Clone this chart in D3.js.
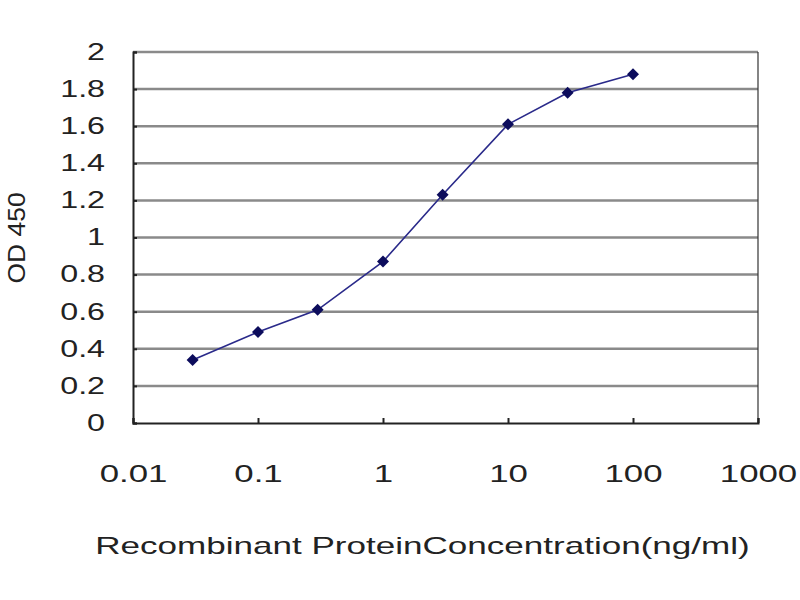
<!DOCTYPE html>
<html>
<head>
<meta charset="utf-8">
<script src="https://cdn.jsdelivr.net/npm/d3@7"></script>
<style>
  body { margin: 0; background: #fff; }
  text { font-family: "Liberation Sans", Arial, sans-serif; fill: #222; }
</style>
</head>
<body>
<div class="canvas"></div>
<script>
// concentrations (ng/ml) and OD 450 readings
const concentrations = [0.03, 0.1, 0.3, 1, 3, 10, 30, 100];
const odValues = [0.34, 0.49, 0.61, 0.87, 1.23, 1.61, 1.78, 1.88];
const xTicks = [0.01, 0.1, 1, 10, 100, 1000];
const xTickLabels = ['0.01', '0.1', '1', '10', '100', '1000'];
const yTicks = [0, 0.2, 0.4, 0.6, 0.8, 1, 1.2, 1.4, 1.6, 1.8, 2];

const width = 800, height = 600;
const margin = { top: 52, right: 42, bottom: 177, left: 133 };

const svg = d3.select('.canvas').append('svg')
    .attr('width', width)
    .attr('height', height);

// widen text the way the old chart image does
function stretch(sel, k) {
  sel.each(function() {
    const w = this.getComputedTextLength();
    d3.select(this)
      .attr('textLength', w * k)
      .attr('lengthAdjust', 'spacingAndGlyphs');
  });
}

const x = d3.scaleLog()
    .domain([0.01, 1000])
    .range([margin.left, width - margin.right]);

const y = d3.scaleLinear()
    .domain([0, 2])
    .range([height - margin.bottom, margin.top]);

// grid lines
svg.append('g')
  .selectAll('line')
  .data(yTicks.filter(d => d > 0))
  .join('line')
    .attr('x1', x(0.01))
    .attr('x2', x(1000))
    .attr('y1', d => y(d))
    .attr('y2', d => y(d))
    .attr('stroke', '#8a8a8a')
    .attr('stroke-width', 2.5);

// right border
svg.append('line')
    .attr('x1', x(1000)).attr('x2', x(1000))
    .attr('y1', y(2)).attr('y2', y(0))
    .attr('stroke', '#333')
    .attr('stroke-width', 1.2);

// y axis
const yAxis = svg.append('g')
    .attr('transform', `translate(${margin.left},0)`)
    .call(d3.axisLeft(y).tickValues(yTicks).tickSize(-4).tickPadding(28)
      .tickFormat(d => d3.format('~g')(d)));
yAxis.select('.domain').attr('stroke', '#222').attr('stroke-width', 2);
yAxis.selectAll('.tick line').attr('stroke', '#222').attr('stroke-width', 2);
yAxis.selectAll('text').style('font-size', '23px').attr('fill', '#222')
    .call(stretch, 1.4);

// x axis
const xAxis = svg.append('g')
    .attr('transform', `translate(0,${y(0)})`)
    .call(d3.axisBottom(x).tickValues(xTicks).tickSize(-5).tickPadding(42)
      .tickFormat((d, i) => xTickLabels[i]));
xAxis.select('.domain').attr('stroke', '#222').attr('stroke-width', 2);
xAxis.selectAll('.tick line').attr('stroke', '#222').attr('stroke-width', 2);
xAxis.selectAll('text').style('font-size', '24px').attr('fill', '#222')
    .call(stretch, 1.45);

// series line
const pts = concentrations.map((c, i) => [c, odValues[i]]);
svg.append('path')
    .datum(pts)
    .attr('fill', 'none')
    .attr('stroke', '#2a2a8a')
    .attr('stroke-width', 1.6)
    .attr('d', d3.line().x(d => x(d[0])).y(d => y(d[1])));

// diamond markers
svg.append('g')
  .selectAll('path')
  .data(pts)
  .join('path')
    .attr('transform', d => `translate(${x(d[0])},${y(d[1])}) rotate(45)`)
    .attr('d', d3.symbol(d3.symbolSquare, 72))
    .attr('fill', '#0c0c5c');

// axis titles
svg.append('text')
    .attr('x', (97 + 748) / 2)
    .attr('y', 554)
    .attr('text-anchor', 'middle')
    .style('font-size', '24px')
    .text('Recombinant ProteinConcentration(ng/ml)')
    .call(stretch, 1.46);

svg.append('text')
    .attr('transform', 'translate(25,238) rotate(-90)')
    .attr('text-anchor', 'middle')
    .style('font-size', '23px')
    .text('OD 450')
    .call(stretch, 1.15);
</script>
</body>
</html>
